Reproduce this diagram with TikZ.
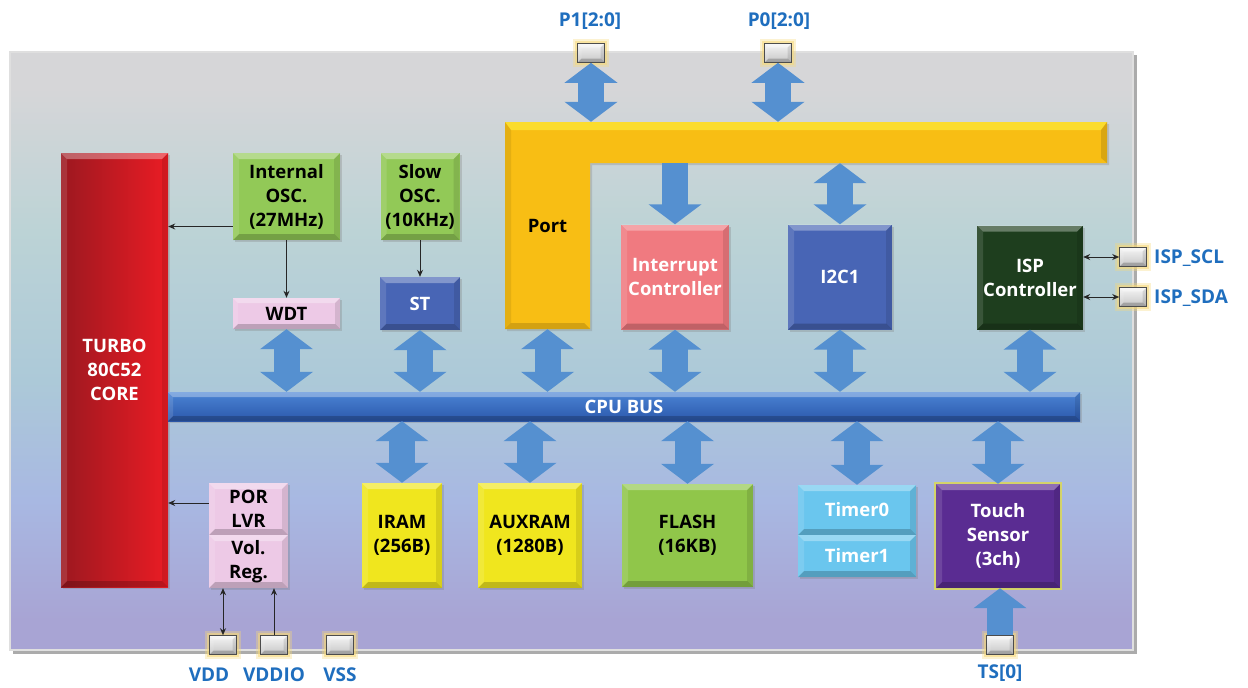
\documentclass[tikz,border=0pt]{standalone}
\usepackage{fontspec}
\setmainfont{Open Sans}
\usetikzlibrary{arrows.meta,shadows,calc}

% palette
\definecolor{padtext}{HTML}{1F6EBE}
\definecolor{arrowblue}{HTML}{5590D0}
\definecolor{corered}{HTML}{EA1C24}
\definecolor{coredark}{HTML}{9C1820}
\definecolor{oscgreen}{HTML}{92C957}
\definecolor{pinkbox}{HTML}{EDC9E6}
\definecolor{stblue}{HTML}{4865B5}
\definecolor{portyel}{HTML}{F8BE14}
\definecolor{portlight}{HTML}{FCE434}
\definecolor{intred}{HTML}{F07A80}
\definecolor{ispgreen}{HTML}{1E3E1E}
\definecolor{busblue}{HTML}{2C58AC}
\definecolor{buslight}{HTML}{4A84D4}
\definecolor{ramyel}{HTML}{F0E61E}
\definecolor{flashgreen}{HTML}{90C64A}
\definecolor{timerblue}{HTML}{6AC6EE}
\definecolor{touchpurple}{HTML}{5A2C92}
\definecolor{touchrim}{HTML}{D4D46A}
\definecolor{padglow}{HTML}{F6D97A}
\definecolor{fbot}{HTML}{A8A4D4}
\definecolor{fmidA}{HTML}{A8B8E2}
\definecolor{fmidB}{HTML}{ACC9D8}
\definecolor{fmidC}{HTML}{BCD3D6}
\definecolor{ftop}{HTML}{D6D6D8}

% the path is fitted into the middle half (25bp..75bp) of the shading
\pgfdeclareverticalshading{framebg}{100bp}{color(0bp)=(fbot); color(27.5bp)=(fbot);
  color(37.5bp)=(fmidA); color(47.5bp)=(fmidB); color(60bp)=(fmidC); color(72bp)=(ftop); color(100bp)=(ftop)}

\newcommand\blkfont{\fontsize{18.5}{24}\selectfont\bfseries}
\newcommand\padfont{\fontsize{19}{21}\selectfont\bfseries}

\tikzset{
  bevel/.style={path picture={
    \coordinate (bNW) at (path picture bounding box.north west);
    \coordinate (bNE) at (path picture bounding box.north east);
    \coordinate (bSW) at (path picture bounding box.south west);
    \coordinate (bSE) at (path picture bounding box.south east);
    \fill[white,opacity=.32] (bNW) -- (bNE) -- ([shift={(-#1,-#1)}]bNE) -- ([shift={(#1,-#1)}]bNW) -- cycle;
    \fill[black,opacity=.20] (bSW) -- (bSE) -- ([shift={(-#1,#1)}]bSE) -- ([shift={(#1,#1)}]bSW) -- cycle;
    \fill[black,opacity=.10] (bNE) -- (bSE) -- ([shift={(-#1,#1)}]bSE) -- ([shift={(-#1,-#1)}]bNE) -- cycle;
    \fill[white,opacity=.12] (bNW) -- (bSW) -- ([shift={(#1,#1)}]bSW) -- ([shift={(#1,-#1)}]bNW) -- cycle;
  }},
  bevel/.default=6pt,
  block/.style={rectangle, inner sep=1pt, align=center, font=\blkfont, bevel,
    drop shadow={shadow xshift=2pt, shadow yshift=-2pt, opacity=.3}},
  padbox/.style={rectangle, minimum width=27pt, minimum height=19pt, inner sep=0pt,
    top color=white!92!gray, bottom color=gray!45, draw=gray!60!black, line width=.6pt,
    bevel=4pt,
    preaction={draw=padglow, line width=9pt, opacity=.35, rounded corners=4pt},
    preaction={draw=padglow, line width=5pt, opacity=.55, rounded corners=2pt}},
  padlabel/.style={font=\padfont, text=padtext, inner sep=0pt},
  fatone/.style={draw=arrowblue, line width=26pt, -{Triangle[width=52pt,length=20pt]}},
  fattwo/.style={draw=arrowblue, line width=26pt, {Triangle[width=52pt,length=20pt]}-{Triangle[width=52pt,length=20pt]}},
  sig/.style={draw=black!85, line width=.9pt, -{Stealth[length=7pt,width=6pt]}},
  sigdbl/.style={draw=black!85, line width=.9pt, {Stealth[length=7pt,width=6pt]}-{Stealth[length=7pt,width=6pt]}},
}

\begin{document}
\begin{tikzpicture}[x=1pt,y=-1pt]
\useasboundingbox (0,0) rectangle (1248,688);

% chip outline
\fill[black!60,opacity=.55] (13,55) rectangle (1137,654);
\shadedraw[shading=framebg, draw=white!75!gray, line width=1.2pt] (10,52) rectangle (1133,650);

% port bar (L shape)
\fill[portyel, drop shadow={shadow xshift=2pt, shadow yshift=-2pt, opacity=.3}]
  (505,122) -- (1107,122) -- (1107,163) -- (590,163) -- (590,329) -- (505,329) -- cycle;
\fill[portlight,opacity=.8] (505,122) -- (1107,122) -- (1101,130) -- (511,130) -- cycle;
\fill[black,opacity=.08] (505,122) -- (511,130) -- (511,323) -- (505,329) -- cycle;
\fill[black,opacity=.12] (1107,122) -- (1107,163) -- (1101,158) -- (1101,130) -- cycle;
\fill[black,opacity=.15] (505,329) -- (590,329) -- (584,323) -- (511,323) -- cycle;
\node[inner sep=0pt, minimum width=602pt, minimum height=41pt] (porth) at (806,142.5) {};
\node[inner sep=0pt, minimum width=85pt, minimum height=207pt, font=\blkfont] (portv) at (547.5,225.5) {Port};

% core and blocks
\node[block, left color=coredark, right color=corered, text=white, minimum width=107pt, minimum height=434pt]
  (core) at (114.5,370) {TURBO\\80C52\\CORE};
\node[block, fill=oscgreen, minimum width=107pt, minimum height=87pt] (iosc) at (286.5,196.5) {Internal\\OSC.\\(27MHz)};
\node[block, fill=oscgreen, minimum width=79pt, minimum height=87pt] (sosc) at (420,196.5) {Slow\\OSC.\\(10KHz)};
\node[block, fill=pinkbox, minimum width=107pt, minimum height=31pt, bevel=5pt] (wdt) at (286.5,313.5) {WDT};
\node[block, fill=stblue, text=white, minimum width=80pt, minimum height=53pt] (st) at (420,303.5) {ST};
\node[block, fill=intred, text=white, minimum width=108pt, minimum height=105pt] (int) at (675,277) {Interrupt\\Controller};
\node[block, fill=stblue, text=white, minimum width=104pt, minimum height=105pt] (i2c) at (840,277) {I2C1};
\node[block, fill=ispgreen, text=white, minimum width=106pt, minimum height=104pt] (isp) at (1030,277.5) {ISP\\Controller};

\node[block, top color=buslight, bottom color=busblue, text=white, minimum width=912pt, minimum height=29pt, bevel=5pt]
  (bus) at (624,406.5) {CPU BUS};

\node[block, fill=pinkbox, minimum width=79pt, minimum height=52pt] (por) at (248.5,509) {POR\\LVR};
\node[block, fill=pinkbox, minimum width=79pt, minimum height=53pt] (vol) at (248.5,561.5) {Vol.\\Reg.};
\node[block, fill=ramyel, minimum width=80pt, minimum height=105pt] (iram) at (402,535.5) {IRAM\\(256B)};
\node[block, fill=ramyel, minimum width=104pt, minimum height=105pt] (auxram) at (530,535.5) {AUXRAM\\(1280B)};
\node[block, fill=flashgreen, minimum width=131pt, minimum height=103pt] (flash) at (687.5,535.5) {FLASH\\(16KB)};
\node[block, fill=timerblue, text=white, minimum width=118pt, minimum height=50pt] (tmr0) at (857,510) {Timer0};
\node[block, fill=timerblue, text=white, minimum width=118pt, minimum height=42pt] (tmr1) at (857,556) {Timer1};
\node[block, fill=touchpurple, text=white, minimum width=124pt, minimum height=104pt,
  preaction={draw=touchrim, line width=4pt}] (touch) at (998,536) {Touch\\Sensor\\(3ch)};

% pads
\node[padbox] (pP1) at (591,53) {};
\node[padbox] (pP0) at (778,53) {};
\node[padbox] (pSCL) at (1133,257) {};
\node[padbox] (pSDA) at (1133,297) {};
\node[padbox] (pVDD) at (223,645) {};
\node[padbox] (pVDDIO) at (274,645) {};
\node[padbox] (pVSS) at (340,645) {};
\node[padbox] (pTS) at (1000,645) {};

\node[padlabel] (lP1) at (590,21) {P1[2:0]};
\node[padlabel] (lP0) at (779,21) {P0[2:0]};
\node[padlabel, anchor=west] (lSCL) at (1154,258) {ISP\_SCL};
\node[padlabel, anchor=west] (lSDA) at (1154,298) {ISP\_SDA};
\node[padlabel] (lVDD) at (209,675) {VDD};
\node[padlabel] (lVDDIO) at (274,675) {VDDIO};
\node[padlabel] (lVSS) at (340,675) {VSS};
\node[padlabel] (lTS) at (1000,673) {TS[0]};

% wide bus arrows
\draw[fattwo] (pP1.south) -- (pP1.south |- porth.north);
\draw[fattwo] (pP0.south) -- (pP0.south |- porth.north);
\draw[fatone] (porth.south -| int.north) -- (int.north);
\draw[fattwo] (porth.south -| i2c.north) -- (i2c.north);

\draw[fattwo] (wdt.south) -- (wdt.south |- bus.north);
\draw[fattwo] (st.south) -- (st.south |- bus.north);
\draw[fattwo] (portv.south) -- (portv.south |- bus.north);
\draw[fattwo] (int.south) -- (int.south |- bus.north);
\draw[fattwo] (i2c.south) -- (i2c.south |- bus.north);
\draw[fattwo] (isp.south) -- (isp.south |- bus.north);

\draw[fattwo] (bus.south -| iram.north) -- (iram.north);
\draw[fattwo] (bus.south -| auxram.north) -- (auxram.north);
\draw[fattwo] (bus.south -| flash.north) -- (flash.north);
\draw[fattwo] (bus.south -| tmr0.north) -- (tmr0.north);
\draw[fattwo] (bus.south -| touch.north) -- (touch.north);
\draw[fatone] (pTS.north) -- (pTS.north |- touch.south);

% signal lines
\draw[sig] ([yshift=-30pt]iosc.west) -- ([yshift=-30pt]iosc.west -| core.east);
\draw[sig] (iosc.south) -- (wdt.north);
\draw[sig] (sosc.south) -- (st.north);
\draw[sig] ([yshift=6pt]por.west) -- ([yshift=6pt]por.west -| core.east);
\draw[sigdbl] (pSCL.west -| isp.east) -- (pSCL.west);
\draw[sigdbl] (pSDA.west -| isp.east) -- (pSDA.west);
\draw[sigdbl] (pVDD.north) -- (pVDD.north |- vol.south);
\draw[sig] (pVDDIO.north) -- (pVDDIO.north |- vol.south);
\end{tikzpicture}
\end{document}
